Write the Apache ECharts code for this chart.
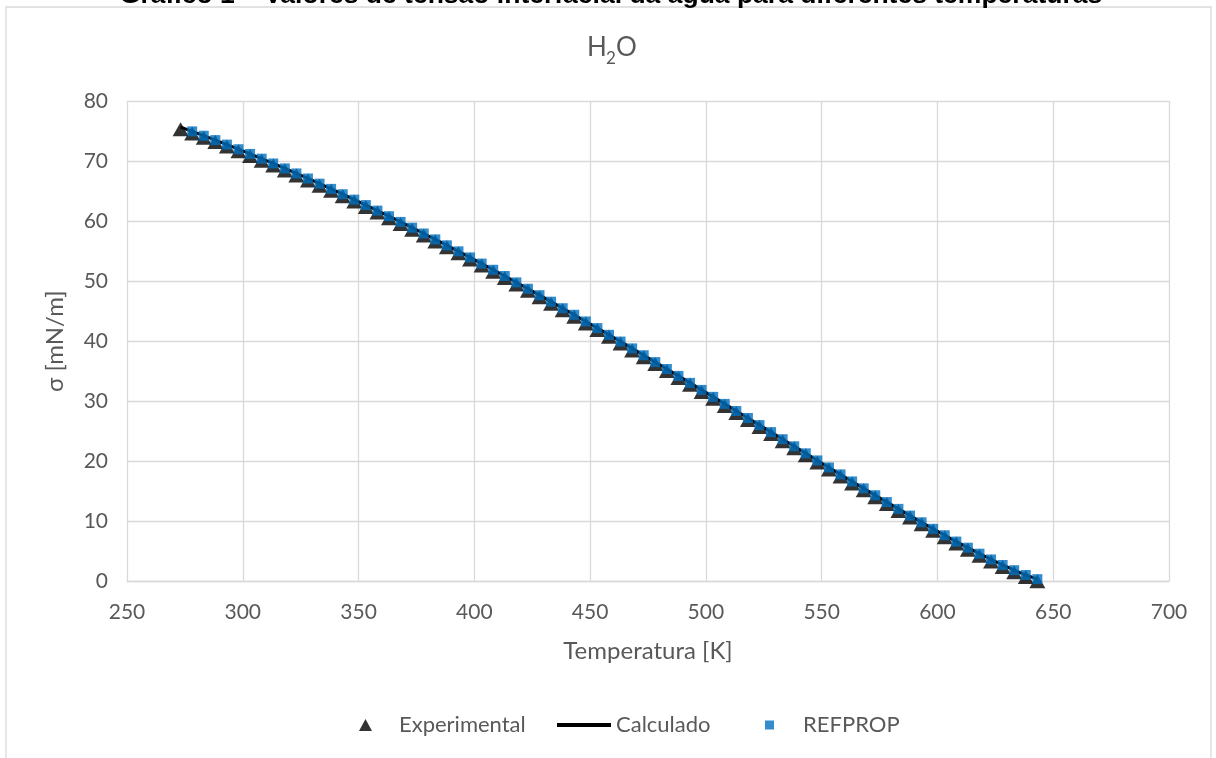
<!DOCTYPE html>
<html>
<head>
<meta charset="utf-8">
<script src="https://cdn.jsdelivr.net/npm/echarts@6/dist/echarts.min.js"></script>
<style>
html,body{margin:0;padding:0;background:#fff;}
#chart{width:1216px;height:758px;}
</style>
</head>
<body>
<div id="chart"></div>
<script>
// Temperatures [K]
const temperatures = [273.15,278.15,283.15,288.15,293.15,298.15,303.15,308.15,313.15,318.15,
  323.15,328.15,333.15,338.15,343.15,348.15,353.15,358.15,363.15,368.15,
  373.15,378.15,383.15,388.15,393.15,398.15,403.15,408.15,413.15,418.15,
  423.15,428.15,433.15,438.15,443.15,448.15,453.15,458.15,463.15,468.15,
  473.15,478.15,483.15,488.15,493.15,498.15,503.15,508.15,513.15,518.15,
  523.15,528.15,533.15,538.15,543.15,548.15,553.15,558.15,563.15,568.15,
  573.15,578.15,583.15,588.15,593.15,598.15,603.15,608.15,613.15,618.15,
  623.15,628.15,633.15,638.15,643.15];
// Experimental sigma [mN/m]
const experimental = [75.65,74.94,74.22,73.49,72.74,71.97,71.19,70.40,69.60,68.78,
  67.94,67.10,66.24,65.37,64.48,63.58,62.67,61.75,60.82,59.87,
  58.91,57.94,56.96,55.97,54.97,53.96,52.93,51.90,50.86,49.80,
  48.74,47.67,46.59,45.50,44.41,43.30,42.19,41.07,39.95,38.81,
  37.67,36.53,35.38,34.23,33.07,31.90,30.74,29.57,28.39,27.22,
  26.04,24.87,23.69,22.51,21.34,20.16,18.99,17.83,16.66,15.51,
  14.36,13.22,12.09,10.97,9.86,8.77,7.70,6.65,5.63,4.63,
  3.67,2.75,1.88,1.08,0.39];
// Calculated sigma [mN/m]
const calculado = [75.65,74.94,74.22,73.49,72.74,71.97,71.19,70.40,69.60,68.78,
  67.94,67.10,66.24,65.37,64.48,63.58,62.67,61.75,60.82,59.87,
  58.91,57.94,56.96,55.97,54.97,53.96,52.93,51.90,50.86,49.80,
  48.74,47.67,46.59,45.50,44.41,43.30,42.19,41.07,39.95,38.81,
  37.67,36.53,35.38,34.23,33.07,31.90,30.74,29.57,28.39,27.22,
  26.04,24.87,23.69,22.51,21.34,20.16,18.99,17.83,16.66,15.51,
  14.36,13.22,12.09,10.97,9.86,8.77,7.70,6.65,5.63,4.63,
  3.67,2.75,1.88,1.08,0.39];
// REFPROP sigma [mN/m] (no value at 273.15 K)
const refprop = [null,74.94,74.22,73.49,72.74,71.97,71.19,70.40,69.60,68.78,
  67.94,67.10,66.24,65.37,64.48,63.58,62.67,61.75,60.82,59.87,
  58.91,57.94,56.96,55.97,54.97,53.96,52.93,51.90,50.86,49.80,
  48.74,47.67,46.59,45.50,44.41,43.30,42.19,41.07,39.95,38.81,
  37.67,36.53,35.38,34.23,33.07,31.90,30.74,29.57,28.39,27.22,
  26.04,24.87,23.69,22.51,21.34,20.16,18.99,17.83,16.66,15.51,
  14.36,13.22,12.09,10.97,9.86,8.77,7.70,6.65,5.63,4.63,
  3.67,2.75,1.88,1.08,0.39];
const xTicks = {min: 250, max: 700, interval: 50};
const yTicks = {min: 0, max: 80, interval: 10};

const pairs = (vals) => temperatures.map((t, i) => vals[i] == null ? null : [t, vals[i]]).filter(p => p);

const FONT = 'Lato';
const GREY = '#595959';
const chart = echarts.init(document.getElementById('chart'), null, {renderer: 'canvas'});
const legendBase = {
  orient: 'horizontal', top: 712, padding: 0,
  textStyle: {color: GREY, fontSize: 22, fontFamily: FONT, lineHeight: 26}
};
chart.setOption({
  animation: false,
  backgroundColor: '#ffffff',
  graphic: [
    {type: 'rect', z: -10, silent: true,
     shape: {x: 6, y: 7, width: 1205, height: 780},
     style: {fill: null, stroke: '#d9d9d9', lineWidth: 1.3}},
    {type: 'text', x: 611, y: -4.5, silent: true,
     style: {text: 'Gráfico 1 – Valores de tensão interfacial da água para diferentes temperaturas',
             font: 'bold 26.5px "Liberation Sans"', fill: '#000', align: 'center', verticalAlign: 'middle'}},
    {type: 'text', x: 587, y: 48, silent: true,
     style: {text: 'H', font: '26px Lato', fill: GREY, align: 'left', verticalAlign: 'middle'}},
    {type: 'text', x: 606, y: 58.5, silent: true,
     style: {text: '2', font: '17px Lato', fill: GREY, align: 'left', verticalAlign: 'middle'}},
    {type: 'text', x: 616, y: 48, silent: true,
     style: {text: 'O', font: '26px Lato', fill: GREY, align: 'left', verticalAlign: 'middle'}}
  ],
  grid: {left: 127, right: 47, top: 101, bottom: 176.5, containLabel: false},
  xAxis: {
    type: 'value', min: xTicks.min, max: xTicks.max, interval: xTicks.interval,
    name: 'Temperatura [K]', nameLocation: 'middle', nameGap: 58,
    nameTextStyle: {color: GREY, fontSize: 24, fontFamily: FONT},
    axisLine: {show: true, lineStyle: {color: '#d9d9d9', width: 1.3}},
    axisTick: {show: false},
    axisLabel: {color: GREY, fontSize: 21, fontFamily: FONT, margin: 20},
    splitLine: {show: true, lineStyle: {color: '#d9d9d9', width: 1.3}}
  },
  yAxis: {
    type: 'value', min: yTicks.min, max: yTicks.max, interval: yTicks.interval,
    name: 'σ [mN/m]', nameLocation: 'middle', nameGap: 60, nameRotate: 90,
    nameTextStyle: {color: GREY, fontSize: 24, fontFamily: FONT},
    axisLine: {show: false},
    axisTick: {show: false},
    axisLabel: {color: GREY, fontSize: 21, fontFamily: FONT, margin: 19},
    splitLine: {show: true, lineStyle: {color: '#d9d9d9', width: 1.3}}
  },
  legend: [
    Object.assign({}, legendBase, {left: 359, data: [{name: 'Experimental', icon: 'triangle'}],
      itemWidth: 13, itemHeight: 12,
      textStyle: Object.assign({}, legendBase.textStyle, {padding: [0, 0, 0, 22]})}),
    Object.assign({}, legendBase, {left: 557, data: [{name: 'Calculado', icon: 'rect'}],
      itemWidth: 54, itemHeight: 4}),
    Object.assign({}, legendBase, {left: 765, data: [{name: 'REFPROP', icon: 'rect'}],
      itemWidth: 9, itemHeight: 9,
      textStyle: Object.assign({}, legendBase.textStyle, {padding: [0, 0, 0, 24]})})
  ],
  series: [
    {name: 'Experimental', type: 'scatter', data: pairs(experimental),
     symbol: 'triangle', symbolSize: [16, 14], symbolOffset: [0, 2],
     itemStyle: {color: '#000000'}, z: 3},
    {name: 'Calculado', type: 'line', data: pairs(calculado), symbol: 'none',
     lineStyle: {color: '#000000', width: 3}, itemStyle: {color: '#000000'}, z: 2},
    {name: 'REFPROP', type: 'scatter', data: pairs(refprop),
     symbol: 'rect', symbolSize: 10, itemStyle: {color: '#0070C0'}, z: 4}
  ]
});
</script>
</body>
</html>
